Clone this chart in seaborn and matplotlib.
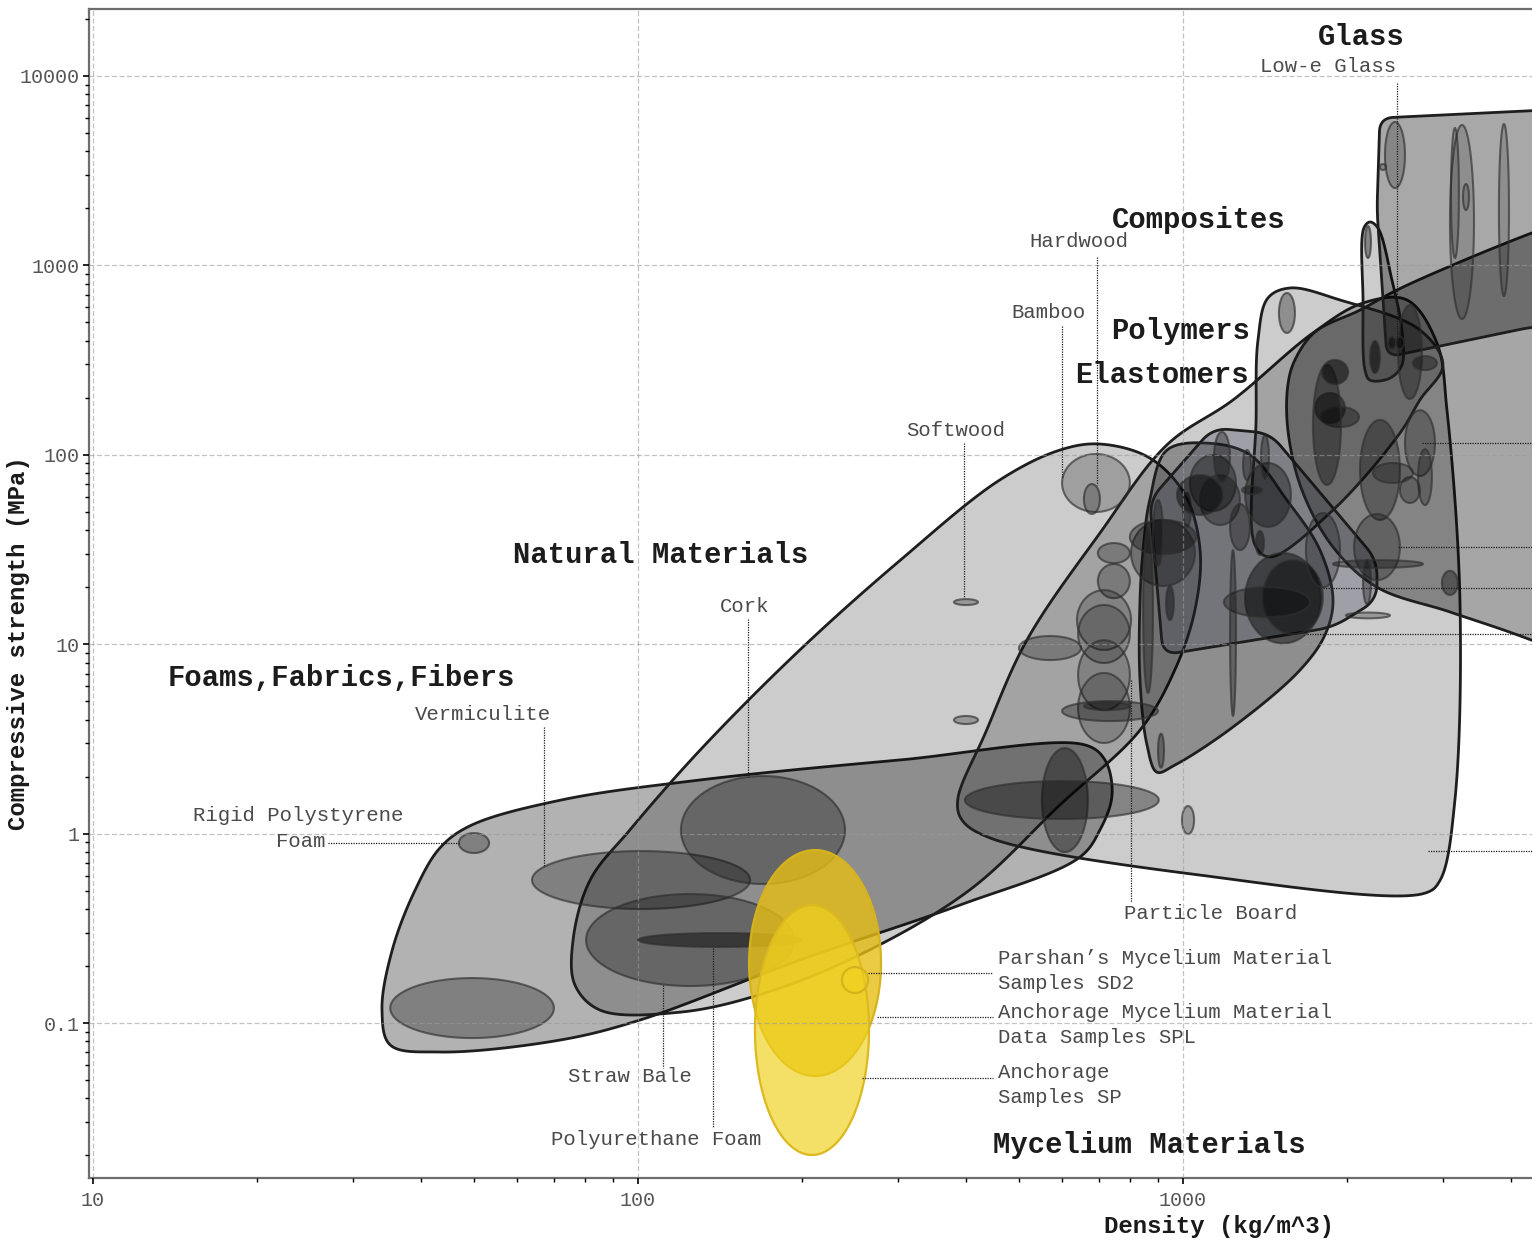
import numpy as np
import matplotlib
matplotlib.use("Agg")
import matplotlib.pyplot as plt
import matplotlib.ticker as mticker
import seaborn as sns

# ---------------------------------------------------------------- data
# Family envelopes: outline points (density kg/m^3, compressive strength MPa)
foam_env_dens = [35.1, 33.9, 35.4, 39.0, 43.3, 49.2, 71.9, 130, 303, 661, 719, 741, 704, 647, 390, 198, 100.9, 71.9, 43.3]
foam_env_str = [0.0766, 0.117, 0.243, 0.504, 0.84, 1.10, 1.50, 1.92, 2.45, 2.94, 2.45, 1.60, 1.045, 0.752, 0.420, 0.215, 0.1038, 0.0813, 0.0703]

nat_env_dens = [85.2, 76.6, 76.0, 81.7, 96.6, 130, 198, 303, 461, 595, 704, 869, 1009, 1075, 1052, 966, 834, 595, 406, 255, 167, 119]
nat_env_str = [0.117, 0.159, 0.274, 0.569, 1.045, 2.76, 9.31, 27.8, 73.6, 106, 114, 96.2, 61.4, 31.4, 15.2, 7.31, 3.52, 1.42, 0.504, 0.229, 0.141, 0.114]

elast_env_dens = [386, 434, 517, 704, 935, 1236, 1732, 2140, 2576, 2924, 3051, 3223, 3155, 2965, 2780, 1075, 443, 393]
elast_env_str = [1.50, 3.40, 10.5, 38.6, 113, 195, 440, 633, 657, 389, 172, 17.1, 1.50, 0.569, 0.485, 0.604, 0.948, 1.181]

comp_env_dens = [1605, 1747, 2113, 2472, 3223, 4365, 7194, 7194, 4365, 3090, 2270, 1885, 1653, 1558, 1558]
comp_env_str = [317, 445, 581, 742, 1042, 1483, 2500, 5.73, 10.5, 14.8, 20.0, 32.6, 65.2, 135, 234]

rubber_env_dens = [935, 1121, 1328, 1551, 1784, 1885, 1822, 1640, 1236, 966, 896, 859, 834, 834, 845, 869]
rubber_env_str = [106, 115, 99.8, 57.7, 31.4, 17.1, 11.2, 7.31, 3.66, 2.30, 2.11, 2.94, 6.47, 17.1, 31.4, 57.7]

plastic_env_dens = [1135, 1444, 2270, 2270, 1885, 919, 869]
plastic_env_str = [138.5, 130, 27.8, 17.1, 12.3, 8.77, 57.7]

poly_env_dens = [1432, 1572, 1941, 2722, 2999, 2722, 2500, 1885, 1444, 1356, 1362, 1373]
poly_env_str = [673, 760, 657, 456, 298, 195, 130, 51.1, 28.9, 33.4, 153, 404]

fibre_env_dens = [2148, 2203, 2279, 2418, 2522, 2522, 2398, 2203, 2158, 2140]
fibre_env_str = [1576, 1695, 1576, 838, 456, 298, 254, 248, 280, 657]

glass_env_dens = [2298, 7194, 7194, 4365, 2367, 2270]
glass_env_str = [6000, 7030, 515, 473, 328, 1961]

# Individual materials: density range, strength range, fill opacity
foam_dens_lo = [46.9, 35.1, 63.9, 80.3, 100, 119.9, 551, 398]
foam_dens_hi = [53.3, 70.1, 160.6, 193.2, 200, 239.8, 669, 903]
foam_str_lo = [0.790, 0.0833, 0.400, 0.1568, 0.252, 0.542, 0.799, 1.194]
foam_str_hi = [1.007, 0.1728, 0.809, 0.480, 0.2987, 2.014, 2.83, 1.896]
foam_shade = [0.28, 0.28, 0.28, 0.28, 0.45, 0.28, 0.35, 0.35]

nat_dens_lo = [380, 380, 600, 658, 500, 698, 698, 639, 642, 642, 642, 600, 658, 996, 900]
nat_dens_hi = [420.6, 420.6, 799, 704, 650, 799, 799, 803, 799, 799, 799, 900, 799, 1048, 923]
nat_str_lo = [16.1, 3.79, 49.9, 48.7, 8.25, 26.8, 17.5, 9.32, 7.96, 4.49, 3.01, 3.93, 4.49, 0.995, 2.23]
nat_str_hi = [17.3, 4.18, 101, 70.1, 11.05, 34.2, 26.5, 19.3, 16.1, 10.5, 7.05, 5.01, 4.95, 1.399, 3.37]
nat_shade = [0.25, 0.25, 0.22, 0.22, 0.25, 0.25, 0.25, 0.2, 0.2, 0.2, 0.2, 0.3, 0.3, 0.25, 0.3]

eng_dens_lo = [803, 799, 1030, 1075, 1300, 1300, 1402, 1189, 2113, 1747, 1791, 2060, 1681, 1885, 2140, 1991, 2987,
               2555, 2700, 2501, 2232, 1732, 1220, 845, 881, 931, 1140, 1289, 1391, 1361, 1283, 1000, 1220, 975]
eng_dens_hi = [1052, 1057, 1251, 1272, 1578, 1791, 1806, 1710, 2501, 1983, 2104, 2501, 1942, 2756, 2213, 2398, 3195,
               2900, 2863, 2721, 2642, 1950, 1251, 881, 919, 962, 1220, 1333, 1438, 1408, 1396, 1034, 1327, 1184]
eng_str_lo = [20.3, 29.9, 50.5, 42.6, 41.6, 10.1, 11.3, 13.9, 45.3, 147, 140, 21.8, 20.0, 25.3, 16.3, 13.7, 18.2,
              77.3, 54.3, 55.7, 71.0, 69.3, 4.18, 5.53, 25.9, 13.4, 71.9, 73.6, 74.5, 29.6, 62.1, 41.6, 31.4, 48.1]
eng_str_hi = [45.3, 45.3, 99.7, 78.2, 90.5, 30.3, 27.8, 20.0, 153, 212, 179, 48.7, 49.3, 27.8, 27.9, 14.7, 24.4,
              172, 107, 76.3, 90.5, 298, 31.4, 41.6, 57.7, 20.3, 132, 106, 127, 39.6, 68.4, 62.9, 55.0, 78.2]
eng_shade = [0.3, 0.3, 0.35, 0.3, 0.35, 0.45, 0.4, 0.3, 0.3, 0.45, 0.35, 0.25, 0.25, 0.3, 0.3, 0.25, 0.35,
             0.25, 0.25, 0.25, 0.25, 0.35, 0.3, 0.3, 0.3, 0.4, 0.3, 0.3, 0.3, 0.4, 0.3, 0.3, 0.3, 0.45]

top_dens_lo = [1500, 2158, 2348, 2299, 3090, 3103, 3265, 3800, 2204, 2480, 2642, 1799, 2378, 2460]
top_dens_hi = [1605, 2213, 2555, 2358, 3420, 3209, 3348, 3965, 2299, 2745, 2924, 2009, 2459, 2544]
top_str_lo = [440, 1094, 2563, 3190, 521, 1094, 1961, 689, 270, 197, 280, 236, 362, 362]
top_str_hi = [715, 1614, 5716, 3430, 5512, 5316, 2690, 5580, 399, 618, 332, 317, 419, 419]
top_shade = [0.3, 0.35, 0.2, 0.2, 0.15, 0.15, 0.15, 0.15, 0.5, 0.3, 0.35, 0.5, 0.5, 0.5]

# Mycelium samples
myc_names = ["Anchorage Mycelium Material Data Samples SPL", "Anchorage Samples SP", "Parshan's Samples SD2"]
myc_dens_lo = [159.9, 163.9, 236.7]
myc_dens_hi = [279.2, 265.4, 264.3]
myc_str_lo = [0.0525, 0.0201, 0.1441]
myc_str_hi = [0.819, 0.420, 0.1975]

# Axis ticks
x_ticks = [10, 100, 1000]
x_tick_labels = ["10", "100", "1000"]
y_ticks = [0.1, 1, 10, 100, 1000, 10000]
y_tick_labels = ["0.1", "1", "10", "100", "1000", "10000"]

# ---------------------------------------------------------------- helpers
K = 189.4 / 545.0   # height of a strength decade relative to a density decade


def _to_space(d, s):
    return np.column_stack([np.log10(d), np.log10(s) * K])


def _from_space(P):
    return 10 ** P[:, 0], 10 ** (P[:, 1] / K)


def smooth_outline(d, s, n=30):
    """Closed centripetal Catmull-Rom curve through the outline points."""
    P = _to_space(d, s)
    m = len(P)
    segs = []
    for i in range(m):
        p0, p1, p2, p3 = P[(i - 1) % m], P[i], P[(i + 1) % m], P[(i + 2) % m]
        t0 = 0.0
        t1 = t0 + np.linalg.norm(p1 - p0) ** 0.5
        t2 = t1 + np.linalg.norm(p2 - p1) ** 0.5
        t3 = t2 + np.linalg.norm(p3 - p2) ** 0.5
        t = np.linspace(t1, t2, n, endpoint=False)[:, None]
        a1 = (t1 - t) / (t1 - t0) * p0 + (t - t0) / (t1 - t0) * p1
        a2 = (t2 - t) / (t2 - t1) * p1 + (t - t1) / (t2 - t1) * p2
        a3 = (t3 - t) / (t3 - t2) * p2 + (t - t2) / (t3 - t2) * p3
        b1 = (t2 - t) / (t2 - t0) * a1 + (t - t0) / (t2 - t0) * a2
        b2 = (t3 - t) / (t3 - t1) * a2 + (t - t1) / (t3 - t1) * a3
        segs.append((t2 - t) / (t2 - t1) * b1 + (t - t1) / (t2 - t1) * b2)
    return _from_space(np.vstack(segs))


def rounded_outline(d, s, r=0.03, n=16):
    """Closed polygon with quadratic fillets at the corners."""
    P = _to_space(d, s)
    m = len(P)
    segs = []
    t = np.linspace(0, 1, n)[:, None]
    for i in range(m):
        prv, cur, nxt = P[i - 1], P[i], P[(i + 1) % m]
        a, b = prv - cur, nxt - cur
        la, lb = np.linalg.norm(a), np.linalg.norm(b)
        pin = cur + a / la * min(r, 0.45 * la)
        pout = cur + b / lb * min(r, 0.45 * lb)
        segs.append((1 - t) ** 2 * pin + 2 * (1 - t) * t * cur + t ** 2 * pout)
    return _from_space(np.vstack(segs))


def ellipse(dlo, dhi, slo, shi, n=120):
    cx, rx = (np.log10(dlo) + np.log10(dhi)) / 2, (np.log10(dhi) - np.log10(dlo)) / 2
    cy, ry = (np.log10(slo) + np.log10(shi)) / 2, (np.log10(shi) - np.log10(slo)) / 2
    t = np.linspace(0, 2 * np.pi, n)
    return 10 ** (cx + rx * np.cos(t)), 10 ** (cy + ry * np.sin(t))


# ---------------------------------------------------------------- figure
W, H = 1532, 1243
sns.set_theme(style="white")
plt.rcParams["font.family"] = ["Liberation Mono", "DejaVu Sans Mono"]

fig = plt.figure(figsize=(W / 100, H / 100), dpi=100)
ax = fig.add_axes([89 / W, 65 / H, 1443 / W, 1169 / H])
ax.set_xscale("log")
ax.set_yscale("log")

EDGE = "#1e1e1e"

envelopes = [
    (smooth_outline(foam_env_dens, foam_env_str), (0, 0, 0, 0.30)),
    (smooth_outline(nat_env_dens, nat_env_str), (0, 0, 0, 0.20)),
    (smooth_outline(elast_env_dens, elast_env_str), (0, 0, 0, 0.20)),
    (smooth_outline(comp_env_dens, comp_env_str), (0, 0, 0, 0.35)),
    (smooth_outline(rubber_env_dens, rubber_env_str), (0, 0, 0, 0.30)),
    (rounded_outline(plastic_env_dens, plastic_env_str, r=0.03), (0.22, 0.24, 0.32, 0.30)),
    (smooth_outline(poly_env_dens, poly_env_str), (0, 0, 0, 0.20)),
    (smooth_outline(fibre_env_dens, fibre_env_str), (0, 0, 0, 0.20)),
    (rounded_outline(glass_env_dens, glass_env_str, r=0.025), (0, 0, 0, 0.34)),
]
for (ex, ey), fc in envelopes:
    ax.fill(ex, ey, facecolor=fc, edgecolor=EDGE, linewidth=2.0, zorder=1)


def draw_blobs(dlo, dhi, slo, shi, shade):
    for a, b, c, d, al in zip(dlo, dhi, slo, shi, shade):
        x, y = ellipse(a, b, c, d)
        ax.fill(x, y, facecolor=(0, 0, 0, al), edgecolor=(0.18, 0.18, 0.18, 0.65),
                linewidth=1.5, zorder=1.5)


draw_blobs(foam_dens_lo, foam_dens_hi, foam_str_lo, foam_str_hi, foam_shade)
draw_blobs(nat_dens_lo, nat_dens_hi, nat_str_lo, nat_str_hi, nat_shade)
draw_blobs(eng_dens_lo, eng_dens_hi, eng_str_lo, eng_str_hi, eng_shade)
draw_blobs(top_dens_lo, top_dens_hi, top_str_lo, top_str_hi, top_shade)

# Mycelium samples in yellow
myc_fill = [(0.90, 0.745, 0.08, 0.80), (0.94, 0.82, 0.12, 0.68), (0.94, 0.82, 0.12, 0.55)]
myc_edge = ["#d6b31c", "#dcb91e", "#d6b31c"]
for i in range(3):
    x, y = ellipse(myc_dens_lo[i], myc_dens_hi[i], myc_str_lo[i], myc_str_hi[i])
    ax.fill(x, y, facecolor=myc_fill[i], edgecolor=myc_edge[i], linewidth=1.6, zorder=2.2)

# ---------------------------------------------------------------- leaders
lead = dict(color="#1a1a1a", linewidth=0.9, linestyle=(0, (1, 1)), zorder=3)
vert_x = [2472, 695, 600, 396, 159, 67.3, 803, 111, 137]
vert_y0 = [9184, 1107, 479, 115, 13.6, 3.66, 6.47, 0.159, 0.249]
vert_y1 = [380, 69.3, 75.5, 17.5, 1.99, 0.675, 0.436, 0.0578, 0.0279]
for x, a, b in zip(vert_x, vert_y0, vert_y1):
    ax.plot([x, x], [a, b], **lead)

horz_y = [0.891, 0.1837, 0.1076, 0.0513, 115, 32.6, 19.8, 11.3, 0.809]
horz_x0 = [27.0, 264, 275, 258, 2747, 2477, 1807, 1689, 2818]
horz_x1 = [47.1, 448, 448, 448, 6000, 6000, 6000, 6000, 6000]
for y, a, b in zip(horz_y, horz_x0, horz_x1):
    ax.plot([a, b], [y, y], **lead)

# ---------------------------------------------------------------- labels
big = dict(fontsize=20.8, fontweight="bold", color="#1c1c1c", ha="center", va="center", zorder=4)
small = dict(fontsize=14.9, color="#4a4a4a", ha="center", va="center", zorder=4)

group_labels = ["Glass", "Composites", "Polymers", "Elastomers", "Natural Materials",
                "Foams,Fabrics,Fibers", "Mycelium Materials"]
group_x = [2123, 1067, 991, 914, 110, 28.6, 869]
group_y = [16070, 1738, 451, 264, 29.6, 6.64, 0.0227]
for t, x, y in zip(group_labels, group_x, group_y):
    ax.text(x, y, t, **big)

mat_labels = ["Low-e Glass", "Hardwood", "Bamboo", "Softwood", "Cork", "Vermiculite",
              "Rigid Polystyrene", "Foam", "Particle Board", "Straw Bale", "Polyurethane Foam"]
mat_x = [1845, 644, 567, 383, 157, 52.0, 23.8, 24.0, 1122, 96.6, 108]
mat_y = [11160, 1330, 561, 135, 15.9, 4.28, 1.24, 0.914, 0.381, 0.0519, 0.0244]
for t, x, y in zip(mat_labels, mat_x, mat_y):
    ax.text(x, y, t, **small)

myc_label_lines = ["Parshan\u2019s Mycelium Material", "Samples SD2",
                   "Anchorage Mycelium Material", "Data Samples SPL",
                   "Anchorage", "Samples SP"]
myc_label_y = [0.2203, 0.1626, 0.1143, 0.0843, 0.0545, 0.0402]
for t, y in zip(myc_label_lines, myc_label_y):
    ax.text(458, y, t, **{**small, "ha": "left"})

# ---------------------------------------------------------------- axes styling
ax.set_xticks(x_ticks)
ax.set_xticklabels(x_tick_labels)
ax.set_yticks(y_ticks)
ax.set_yticklabels(y_tick_labels)
ax.xaxis.set_minor_locator(mticker.LogLocator(10, subs=np.arange(2, 10)))
ax.yaxis.set_minor_locator(mticker.LogLocator(10, subs=np.arange(2, 10), numticks=20))
ax.xaxis.set_minor_formatter(mticker.NullFormatter())
ax.yaxis.set_minor_formatter(mticker.NullFormatter())
ax.set_xlim(9.83, 4370)
ax.set_ylim(0.0152, 22580)

ax.tick_params(which="major", direction="out", length=4, width=1.2, color="black",
               labelsize=14.4, labelcolor="#555555", left=True, bottom=True)
ax.tick_params(axis="x", which="major", pad=5)
ax.tick_params(axis="y", which="major", pad=3)
ax.tick_params(which="minor", direction="out", length=3, width=1.0, color="black",
               left=True, bottom=True)

ax.grid(True, which="major", color="#9a9a9a", alpha=0.6, linestyle=(0, (4, 2)), linewidth=0.9)
ax.set_axisbelow(False)
for side in ["left", "bottom", "top"]:
    ax.spines[side].set_color("#6e6e6e")
    ax.spines[side].set_linewidth(1.6)
ax.spines["right"].set_visible(False)

# Axis titles
fig.text(1219 / W, 1 - 1226 / H, "Density (kg/m^3)", fontsize=17.3, fontweight="bold",
         color="#1a1a1a", ha="center", va="center")
fig.text(19 / W, 1 - 643 / H, "Compressive strength (MPa)", fontsize=17.3, fontweight="bold",
         color="#1a1a1a", ha="center", va="center", rotation=90)

fig.savefig("out.png", dpi=100, facecolor="white")
